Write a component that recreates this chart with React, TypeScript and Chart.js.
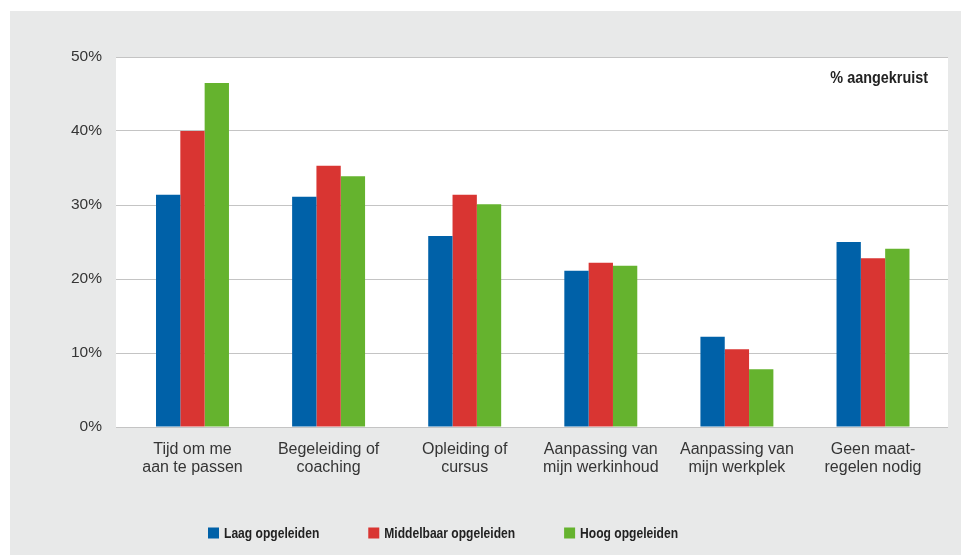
import { useEffect, useRef } from 'react';
import { Chart, registerables } from 'chart.js';

Chart.register(...registerables);

const categories: string[][] = [
  ['Tijd om me', 'aan te passen'],
  ['Begeleiding of', 'coaching'],
  ['Opleiding of', 'cursus'],
  ['Aanpassing van', 'mijn werkinhoud'],
  ['Aanpassing van', 'mijn werkplek'],
  ['Geen maat-', 'regelen nodig'],
];
const seriesNames = ['Laag opgeleiden', 'Middelbaar opgeleiden', 'Hoog opgeleiden'];
const laag = [31.4, 31.1, 25.8, 21.1, 12.2, 25.0];
const middelbaar = [40.0, 35.3, 31.4, 22.2, 10.5, 22.8];
const hoog = [46.5, 33.9, 30.1, 21.8, 7.8, 24.1];
const yTicks = [0, 10, 20, 30, 40, 50];
const unitLabel = '% aangekruist';
const colors = ['#0061a8', '#d93532', '#65b32e'];

const TEXT = '#353535';
const SANS = "'Liberation Sans', Arial, sans-serif";

function narrowText(ctx: CanvasRenderingContext2D, text: string, x: number, y: number, targetWidth: number) {
  const w = ctx.measureText(text).width;
  const sx = w > 0 ? targetWidth / w : 1;
  ctx.save();
  ctx.translate(x, y);
  ctx.scale(sx, 1);
  ctx.fillText(text, 0, 0);
  ctx.restore();
  return targetWidth;
}

export default function App() {
  const ref = useRef<HTMLCanvasElement | null>(null);

  useEffect(() => {
    if (!ref.current) return;
    const seriesValues = [laag, middelbaar, hoog];

    const plotBg = {
      id: 'plotBg',
      beforeDraw(chart: any) {
        const { ctx, chartArea } = chart;
        ctx.save();
        ctx.fillStyle = '#ffffff';
        ctx.fillRect(chartArea.left, chartArea.top, chartArea.right - chartArea.left, chartArea.bottom - chartArea.top);
        ctx.restore();
      },
    };

    const extras = {
      id: 'extras',
      afterDraw(chart: any) {
        const { ctx, chartArea } = chart;
        ctx.save();
        // unit note
        ctx.font = `bold 16px ${SANS}`;
        ctx.fillStyle = '#222222';
        ctx.textAlign = 'left';
        ctx.textBaseline = 'middle';
        const noteW = ctx.measureText(unitLabel).width * 0.9;
        narrowText(ctx, unitLabel, chartArea.right - 20 - noteW, chartArea.top + 22, noteW);
        // legend
        ctx.font = `bold 15px ${SANS}`;
        let x = 198;
        const yc = 522;
        const box = 11;
        chart.data.datasets.forEach((ds: any) => {
          ctx.fillStyle = ds.backgroundColor;
          ctx.fillRect(x, yc - box / 2, box, box);
          x += box + 5;
          ctx.fillStyle = '#222222';
          const w = ctx.measureText(ds.label).width * 0.805;
          narrowText(ctx, ds.label, x, yc + 1, w);
          x += w + 49;
        });
        ctx.restore();
      },
    };

    const chart = new Chart(ref.current, {
      type: 'bar',
      data: {
        datasets: seriesValues.map((vals, s) => ({
          label: seriesNames[s],
          data: vals.map((v, i) => ({ x: i, y: v })),
          backgroundColor: colors[s],
          borderWidth: 0,
          barPercentage: 1,
          categoryPercentage: 0.536,
        })),
      },
      options: {
        animation: false,
        responsive: true,
        maintainAspectRatio: false,
        layout: { padding: { left: 0, right: 13, top: 46, bottom: 80 } },
        plugins: {
          legend: { display: false },
          tooltip: { enabled: false },
        },
        scales: {
          x: {
            type: 'linear',
            offset: false,
            min: -0.562,
            max: 5.551,
            grid: { display: false, drawTicks: false, offset: false },
            border: { display: false },
            afterBuildTicks: (scale: any) => {
              scale.ticks = categories.map((_, i) => ({ value: i }));
            },
            afterFit: (scale: any) => {
              scale.height = 48;
            },
            ticks: {
              autoSkip: false,
              maxRotation: 0,
              minRotation: 0,
              padding: 14,
              color: TEXT,
              font: { family: SANS, size: 16, lineHeight: 1.125 },
              callback: (v: any) => categories[Number(v)] ?? '',
            },
          },
          y: {
            min: 0,
            max: 50,
            afterBuildTicks: (scale: any) => {
              scale.ticks = yTicks.map((v) => ({ value: v }));
            },
            afterFit: (scale: any) => {
              scale.width = 106;
            },
            grid: { color: '#c4c4c4', lineWidth: 1, drawTicks: false },
            border: { display: false },
            ticks: {
              padding: 14,
              color: TEXT,
              font: { family: SANS, size: 15.5 },
              callback: (v: any) => `${v}%`,
            },
          },
        },
      },
      plugins: [plotBg, extras],
    } as any);

    return () => chart.destroy();
  }, []);

  return (
    <div
      style={{
        position: 'absolute',
        left: 10,
        top: 11,
        width: 951,
        height: 544,
        background: '#e8e9e9',
      }}
    >
      <canvas ref={ref} />
    </div>
  );
}
